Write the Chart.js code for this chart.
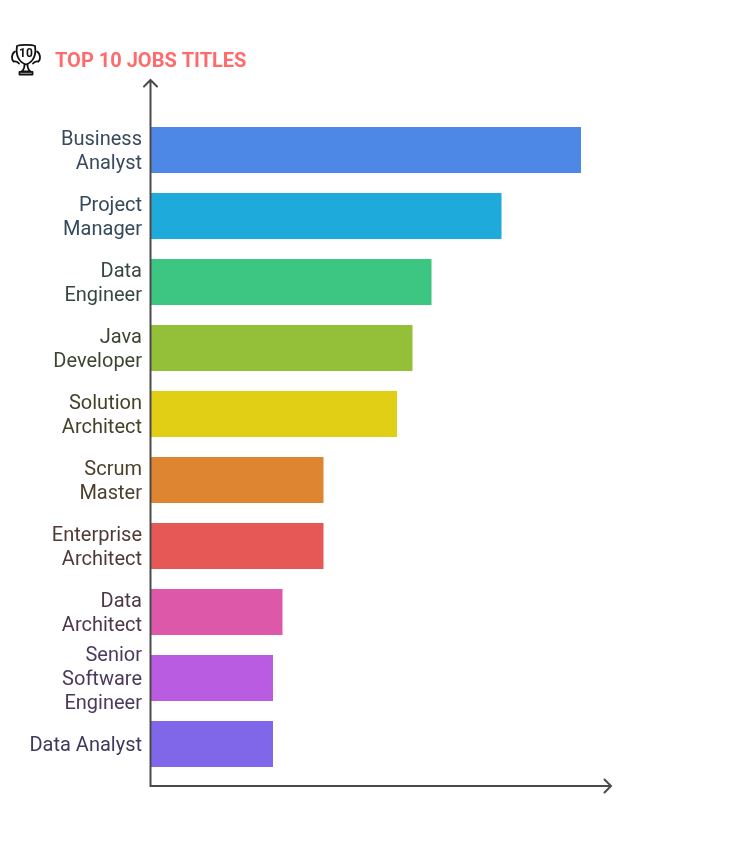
<!DOCTYPE html>
<html>
<head>
<meta charset="utf-8">
<style>
html,body{margin:0;padding:0;background:#fff}
#wrap{position:relative;width:750px;height:854px}
#icon{position:absolute;left:10px;top:43px}
</style>
<script src="https://cdn.jsdelivr.net/npm/chart.js@4"></script>
</head>
<body>
<div id="wrap">
<canvas id="c" width="750" height="854"></canvas>
<svg id="icon" width="34" height="34" viewBox="0 0 34 34" fill="none" stroke="#111" stroke-width="1.8" stroke-linecap="round" stroke-linejoin="round">
<path d="M7 3 C10 1.6 22 1.6 25 3 C26 10 25.5 18 16 21.5 C6.5 18 6 10 7 3 Z"/>
<path d="M5 8.5 C1 11 1.5 17 3.5 18.5 M3.5 18.5 C6 18 8 19 9 20.5"/>
<path d="M27 8.5 C31 11 30.5 17 28.5 18.5 M28.5 18.5 C26 18 24 19 23 20.5"/>
<path d="M14.5 21.5 C14.5 25 13.5 27 11.5 28.5 H20.5 C18.5 27 17.5 25 17.5 21.5"/>
<path d="M9.5 31.5 V28.8 H22.5 V31.5 Z"/>
<text x="16" y="14" text-anchor="middle" font-family="Roboto" font-weight="700" font-size="12" fill="#111" stroke="none">10</text>
</svg>
</div>
<script>
const categories = [
  ["Business","Analyst"],["Project","Manager"],["Data","Engineer"],["Java","Developer"],
  ["Solution","Architect"],["Scrum","Master"],["Enterprise","Architect"],["Data","Architect"],
  ["Senior","Software","Engineer"],"Data Analyst"
];
const values = [43.0,35.05,28.05,26.15,24.6,17.25,17.25,13.15,12.2,12.2];
const barColors = ["#4e88e6","#1eabdc","#3cc682","#94bf39","#e0cf14","#de8532","#e65855","#de58a9","#b95ce2","#8066e8"];
const labelColors = ["#3a4a5e","#34495a","#34483f","#3d4530","#444228","#4c3f2c","#4f3a36","#4d3848","#4a3a5c","#3d3a5c"];
const titleText = "TOP 10 JOBS TITLES";
const axisMax = 46;

const axesPlugin = {
  id: "arrowAxes",
  afterLayout(chart) {
    chart.scales.y.left = 0;
  },
  afterDraw(chart) {
    const {ctx, chartArea: a} = chart;
    const x0 = a.left - 0.5, yEnd = a.bottom + 9, yTop = 80, xEnd = a.right;
    ctx.save();
    ctx.strokeStyle = "#4a4a4a";
    ctx.lineWidth = 2;
    ctx.lineCap = "round";
    ctx.lineJoin = "miter";
    ctx.beginPath();
    ctx.moveTo(x0, yTop);
    ctx.lineTo(x0, yEnd);
    ctx.lineTo(xEnd, yEnd);
    ctx.moveTo(x0 - 6.5, yTop + 6.5);
    ctx.lineTo(x0, yTop);
    ctx.lineTo(x0 + 6.5, yTop + 6.5);
    ctx.moveTo(xEnd - 6.5, yEnd - 6.5);
    ctx.lineTo(xEnd, yEnd);
    ctx.lineTo(xEnd - 6.5, yEnd + 6.5);
    ctx.stroke();
    ctx.restore();
  }
};

new Chart(document.getElementById("c"), {
  type: "bar",
  data: {
    labels: categories,
    datasets: [{ data: values, backgroundColor: barColors, borderWidth: 0, barPercentage: 46/66, categoryPercentage: 1 }]
  },
  options: {
    indexAxis: "y",
    responsive: false,
    animation: false,
    devicePixelRatio: 1,
    layout: { padding: { left: 55, right: 139, top: 0, bottom: 77 } },
    plugins: {
      legend: { display: false },
      tooltip: { enabled: false },
      title: {
        display: true,
        text: titleText,
        align: "start",
        color: "#ff6b6b",
        font: { family: "Roboto", size: 20, weight: "bold", lineHeight: 1.2 },
        padding: { top: 50, bottom: 43 }
      }
    },
    scales: {
      x: { display: false, min: 0, max: axisMax },
      y: {
        afterFit(scale) { scale.width = 96; },
        grid: { display: false, drawTicks: false },
        border: { display: false },
        ticks: {
          autoSkip: false,
          padding: 9,
          labelOffset: 2,
          color: (c) => labelColors[c.index],
          font: { family: "Roboto", size: 20, lineHeight: 1.2 }
        }
      }
    }
  },
  plugins: [axesPlugin]
});
</script>
</body>
</html>
